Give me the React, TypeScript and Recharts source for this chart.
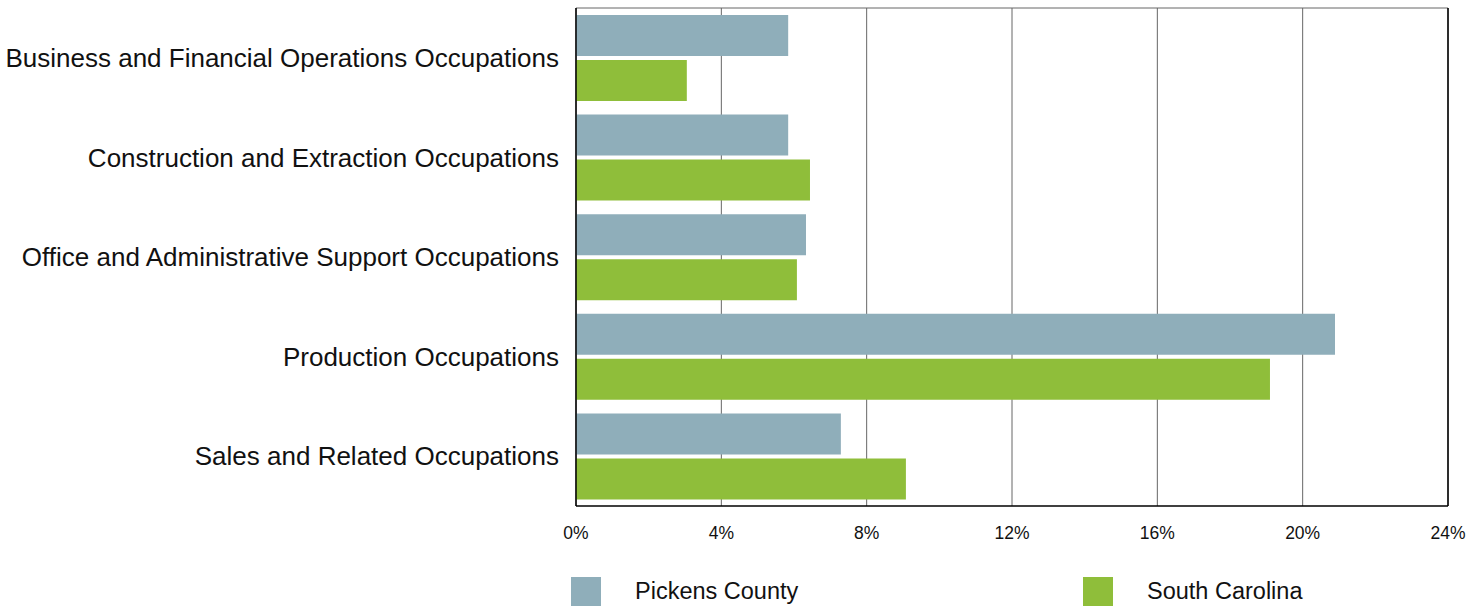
import { Bar, BarChart, CartesianGrid, ReferenceLine, XAxis, YAxis } from "recharts";

const categories = [
  "Business and Financial Operations Occupations",
  "Construction and Extraction Occupations",
  "Office and Administrative Support Occupations",
  "Production Occupations",
  "Sales and Related Occupations",
];
const pickens = [5.84, 5.84, 6.33, 20.89, 7.29];
const southCarolina = [3.05, 6.44, 6.08, 19.1, 9.08];
const xTicks = [0, 4, 8, 12, 16, 20, 24];

const series = [
  { key: "pickens", name: "Pickens County", color: "#8FAEBA" },
  { key: "sc", name: "South Carolina", color: "#8FBE3A" },
];

const data = categories.map((name, i) => ({ name, pickens: pickens[i], sc: southCarolina[i] }));

const font = "'Liberation Sans', Arial, sans-serif";

export default function App() {
  return (
    <div style={{ position: "absolute", left: 0, top: 0, width: 1481, height: 606, background: "#fff", fontFamily: font }}>
      <BarChart
        width={1481}
        height={606}
        data={data}
        layout="vertical"
        margin={{ top: 8, right: 33, bottom: 70, left: 0 }}
        barSize={41}
        barGap={4}
      >
        <CartesianGrid
          stroke="#666"
          strokeWidth={1}
          horizontalCoordinatesGenerator={({ offset }: any) => [offset.top]}
        />
        <XAxis
          type="number"
          domain={[0, 24]}
          ticks={xTicks}
          tickFormatter={(v) => `${v}%`}
          axisLine={{ stroke: "#000", strokeWidth: 1.5 }}
          tickLine={false}
          tickSize={0}
          tickMargin={21}
          tick={{ fill: "#111", fontSize: 17.5, fontFamily: font }}
          height={30}
        />
        <YAxis
          type="category"
          dataKey="name"
          width={576}
          axisLine={{ stroke: "#000", strokeWidth: 1.5 }}
          tickLine={false}
          tickSize={0}
          tickMargin={17}
          tick={{ fill: "#111", fontSize: 26, fontFamily: font }}
        />
        <ReferenceLine x={24} stroke="#000" strokeWidth={1.5} />
        {series.map((s) => (
          <Bar key={s.key} dataKey={s.key} name={s.name} fill={s.color} isAnimationActive={false} />
        ))}
      </BarChart>
      {series.map((s, i) => (
        <div key={s.key} style={{ position: "absolute", top: 577, left: i === 0 ? 571 : 1083, display: "flex", alignItems: "center" }}>
          <div style={{ width: 30, height: 29, background: s.color }} />
          <span style={{ marginLeft: 34, fontSize: 23.5, color: "#111", lineHeight: "29px", whiteSpace: "nowrap" }}>{s.name}</span>
        </div>
      ))}
    </div>
  );
}
